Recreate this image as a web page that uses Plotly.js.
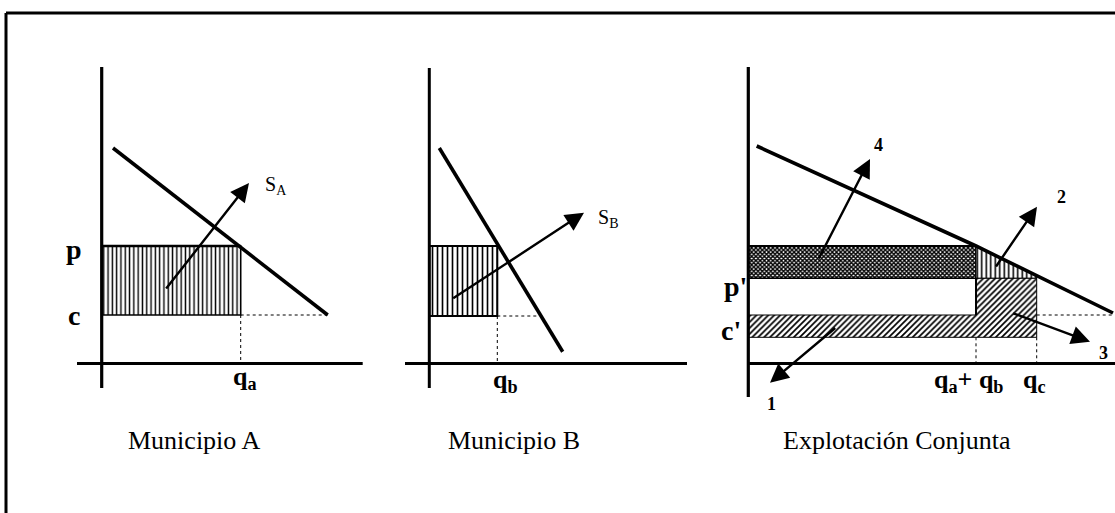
<!DOCTYPE html>
<html><head><meta charset="utf-8">
<script src="https://cdn.plot.ly/plotly-3.0.1.min.js"></script>
<style>html,body{margin:0;padding:0;background:#fff}#chart{width:1115px;height:513px}</style>
</head><body><div id="chart"></div>
<script>
// ---------------- data (diagram units) ----------------
// Panel A: Municipio A
const demandA_q = [1.13, 22.6];
const demandA_p = [21.55, 4.85];
const priceA = 11.75;
const costA = 4.85;
const quantityA = 13.9;
const axisA_q = [-2.47, 26.1];
const axisA_p = [-2.45, 29.65];
const arrowA_tail = [6.33, 7.35];
const arrowA_head = [14.73, 18.05];

// Panel B: Municipio B
const demandB_q = [1.0, 13.34];
const demandB_p = [21.55, 1.18];
const priceB = 11.75;
const costB = 4.75;
const quantityB = 6.8;
const axisB_q = [-2.43, 25.77];
const axisB_p = [-2.45, 29.55];
const arrowB_tail = [2.24, 6.42];
const arrowB_head = [15.47, 15.08];

// Panel C: Explotación Conjunta
const demandC_q = [0.84, 22.77, 36.47];
const demandC_p = [21.75, 11.75, 5.05];
const priceC = 11.75;
const pPrimeC = 8.52;
const costC = 4.85;
const cPrimeC = 2.62;
const quantityAB = 22.77;
const quantityC = 28.84;
const axisC_q = [0, 36.67];
const axisC_p = [-3.35, 29.65];
const arrowC_names = ['4', '2', '3', '1'];
const arrowC_tail_q = [6.97, 24.67, 26.34, 8.84];
const arrowC_tail_p = [10.35, 9.55, 5.08, 3.68];
const arrowC_head_q = [12.17, 28.87, 34.17, 2.17];
const arrowC_head_p = [20.45, 15.68, 2.18, -1.92];
const arrowC_label_q = [12.97, 31.32, 35.47, 2.27];
const arrowC_label_p = [21.85, 16.65, 1.05, -4.05];

// Titles
const titles = ['Municipio A', 'Municipio B', 'Explotación Conjunta'];
const titleQ = [9.23, 8.47, 14.87];
const titleP = -7.65;

// ---------------- helpers ----------------
const W = 1115, H = 513, UNIT = 10, TOP = 40, BOTTOM = 480, ORIGIN_Y = 363.5;
function xFrame(px0, px1, ox, anchor) {
  return {domain: [px0 / W, px1 / W], range: [(px0 - ox) / UNIT, (px1 - ox) / UNIT],
          visible: false, fixedrange: true, anchor: anchor};
}
function yFrame(anchor) {
  return {domain: [(H - BOTTOM) / H, (H - TOP) / H], range: [(ORIGIN_Y - BOTTOM) / UNIT, (ORIGIN_Y - TOP) / UNIT],
          visible: false, fixedrange: true, anchor: anchor};
}
function pAt(qs, ps, q) {
  for (let i = 0; i < qs.length - 1; i++) {
    if (q >= qs[i] && q <= qs[i + 1]) return ps[i] + (ps[i + 1] - ps[i]) * (q - qs[i]) / (qs[i + 1] - qs[i]);
  }
  return ps[ps.length - 1];
}
function qAt(qs, ps, p) {
  for (let i = 0; i < qs.length - 1; i++) {
    const lo = Math.min(ps[i], ps[i + 1]), hi = Math.max(ps[i], ps[i + 1]);
    if (p >= lo && p <= hi) return qs[i] + (qs[i + 1] - qs[i]) * (p - ps[i]) / (ps[i + 1] - ps[i]);
  }
  return qs[qs.length - 1];
}
const BLACK = '#000';
function line(xa, ya, x, y, width, dash) {
  return {type: 'scatter', mode: 'lines', xaxis: xa, yaxis: ya, x: x, y: y, hoverinfo: 'skip',
          line: {color: BLACK, width: width, dash: dash || 'solid'}, showlegend: false};
}
function hatch(xa, ya, x, y, shape, size, solidity, lw) {
  return {type: 'scatter', mode: 'lines', xaxis: xa, yaxis: ya, x: x, y: y, fill: 'toself',
          fillcolor: 'rgba(0,0,0,0)', hoverinfo: 'skip', showlegend: false,
          fillpattern: {shape: shape, size: size, solidity: solidity, fgcolor: BLACK, bgcolor: '#fff', fgopacity: 1},
          line: {color: BLACK, width: lw}};
}
function rect(q0, q1, p0, p1) { return [[q0, q1, q1, q0, q0], [p0, p0, p1, p1, p0]]; }

const traces = [];
// ----- Panel A -----
let r = rect(0, quantityA, costA, priceA);
traces.push(hatch('x', 'y', r[0], r[1], '|', 4.3, 0.33, 1.6));
traces.push(line('x', 'y', [0, quantityA], [priceA, priceA], 2.4));
const cEndA = qAt(demandA_q, demandA_p, costA);
traces.push(line('x', 'y', [quantityA, cEndA, null, quantityA, quantityA], [costA, costA, null, costA, 0], 1, 'dot'));
traces.push(line('x', 'y', axisA_q, [0, 0], 3));
traces.push(line('x', 'y', [0, 0], axisA_p, 3.2));
traces.push(line('x', 'y', demandA_q, demandA_p, 3.6));

// ----- Panel B -----
r = rect(0, quantityB, costB, priceB);
traces.push(hatch('x2', 'y2', r[0], r[1], '|', 5, 0.33, 2));
const cEndB = qAt(demandB_q, demandB_p, costB);
traces.push(line('x2', 'y2', [quantityB, cEndB - 0.4, null, quantityB, quantityB], [costB, costB, null, costB, 0], 1, 'dot'));
traces.push(line('x2', 'y2', axisB_q, [0, 0], 3));
traces.push(line('x2', 'y2', [0, 0], axisB_p, 3));
traces.push(line('x2', 'y2', demandB_q, demandB_p, 3.6));

// ----- Panel C -----
r = rect(0, quantityAB, pPrimeC, priceC);
traces.push(hatch('x3', 'y3', r[0], r[1], 'x', 3, 0.7, 1.4));
const pAB = pAt(demandC_q, demandC_p, quantityAB);
const pQC = pAt(demandC_q, demandC_p, quantityC);
traces.push(hatch('x3', 'y3', [quantityAB, quantityAB, quantityC, quantityC, quantityAB],
                  [pAB, pPrimeC, pPrimeC, pQC, pAB], '|', 4.5, 0.35, 1));
traces.push(hatch('x3', 'y3', [0, quantityAB, quantityAB, quantityC, quantityC, 0, 0],
                  [costC, costC, pPrimeC, pPrimeC, cPrimeC, cPrimeC, costC], '/', 4.2, 0.4, 1));
traces.push(line('x3', 'y3', [quantityAB, quantityAB], [costC, pPrimeC], 2));
traces.push(line('x3', 'y3', [0, quantityAB], [priceC, priceC], 2.2));
traces.push(line('x3', 'y3',
  [quantityC, demandC_q[demandC_q.length - 1], null, quantityAB, quantityAB, null, quantityC, quantityC],
  [costC, costC, null, cPrimeC, 0, null, cPrimeC, 0], 1, 'dot'));
traces.push(line('x3', 'y3', axisC_q, [0, 0], 3.2));
traces.push(line('x3', 'y3', [0, 0], axisC_p, 3.2));
traces.push(line('x3', 'y3', demandC_q, demandC_p, 3.6));

// ----- arrows and text labels -----
const FONT = 'Liberation Serif, Times New Roman, serif';
const ann = [];
function arrow(xa, ya, tail, head) {
  ann.push({xref: xa, yref: ya, axref: xa, ayref: ya, x: head[0], y: head[1], ax: tail[0], ay: tail[1],
            text: '', showarrow: true, arrowhead: 2, arrowsize: 1.55, arrowwidth: 2.4, arrowcolor: BLACK, standoff: 0});
}
function label(xa, ya, x, y, text, size, bold) {
  ann.push({xref: xa, yref: ya, x: x, y: y, text: bold ? '<b>' + text + '</b>' : text, showarrow: false,
            xanchor: 'center', yanchor: 'middle', font: {family: FONT, size: size, color: BLACK}});
}
arrow('x', 'y', arrowA_tail, arrowA_head);
arrow('x2', 'y2', arrowB_tail, arrowB_head);
for (let i = 0; i < arrowC_names.length; i++) {
  arrow('x3', 'y3', [arrowC_tail_q[i], arrowC_tail_p[i]], [arrowC_head_q[i], arrowC_head_p[i]]);
  label('x3', 'y3', arrowC_label_q[i], arrowC_label_p[i], arrowC_names[i], 18, true);
}
label('x', 'y', -2.75, 11.4, 'p', 28, true);
label('x', 'y', -2.77, 4.85, 'c', 28, true);
label('x', 'y', 14.3, -1.4, 'q<sub>a</sub>', 26, true);
label('x', 'y', 17.43, 17.8, 'S<sub>A</sub>', 20, false);
label('x2', 'y2', 17.82, 14.5, 'S<sub>B</sub>', 20, false);
label('x2', 'y2', 7.57, -1.7, 'q<sub>b</sub>', 26, true);
label('x3', 'y3', -1.33, 7.75, "p'", 28, true);
label('x3', 'y3', -1.73, 3.35, "c'", 28, true);
label('x3', 'y3', 22.02, -1.75, 'q<sub>a</sub>+ q<sub>b</sub>', 26, true);
label('x3', 'y3', 28.6, -1.75, 'q<sub>c</sub>', 26, true);
['x', 'x2', 'x3'].forEach((xa, i) => {
  label(xa, xa.replace('x', 'y'), titleQ[i], titleP, titles[i], 26, false);
});

const layout = {
  width: W, height: H, margin: {l: 0, r: 0, t: 0, b: 0},
  paper_bgcolor: '#fff', plot_bgcolor: 'rgba(0,0,0,0)', showlegend: false,
  xaxis: xFrame(50, 380, 101.7, 'y'), yaxis: yFrame('x'),
  xaxis2: xFrame(395, 700, 429.3, 'y2'), yaxis2: yFrame('x2'),
  xaxis3: xFrame(705, 1115, 748.3, 'y3'), yaxis3: yFrame('x3'),
  annotations: ann,
  shapes: [
    {type: 'line', xref: 'paper', yref: 'paper', x0: 6 / W, x1: 6 / W, y0: 1 - 13 / H, y1: 0, line: {color: BLACK, width: 3}},
    {type: 'line', xref: 'paper', yref: 'paper', x0: 6 / W, x1: 1, y0: 1 - 13 / H, y1: 1 - 13 / H, line: {color: BLACK, width: 3}}
  ]
};
Plotly.newPlot('chart', traces, layout, {staticPlot: true, displayModeBar: false});
</script></body></html>
